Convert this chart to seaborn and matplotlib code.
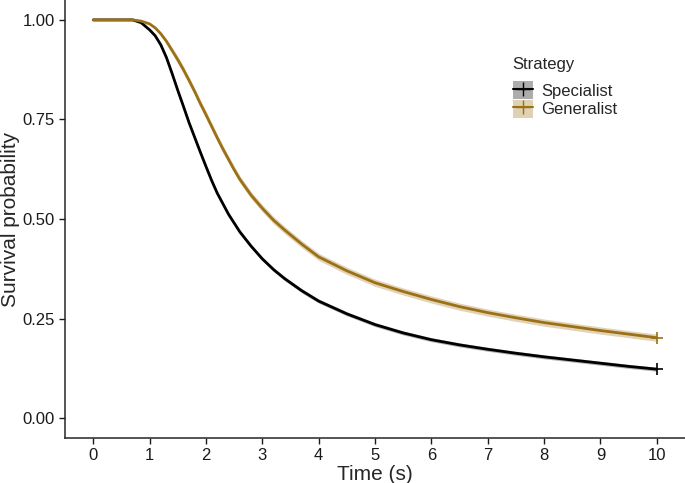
import matplotlib
matplotlib.use('Agg')
import matplotlib.pyplot as plt
import seaborn as sns
import pandas as pd
from matplotlib.patches import Patch
from matplotlib.lines import Line2D

# survival curves
time_spec = [0, 0.7, 0.85, 1.0, 1.1, 1.2, 1.3, 1.4, 1.5, 1.6, 1.7, 1.8, 1.9, 2.0,
             2.1, 2.2, 2.4, 2.6, 2.8, 3.0, 3.2, 3.4, 3.7, 4.0, 4.5, 5.0, 5.5, 6.0,
             6.5, 7.0, 7.5, 8.0, 8.5, 9.0, 9.5, 10.0]
surv_spec = [1.0, 1.0, 0.993, 0.975, 0.96, 0.937, 0.905, 0.865, 0.823, 0.783, 0.742,
             0.705, 0.668, 0.632, 0.597, 0.565, 0.512, 0.468, 0.432, 0.40, 0.373,
             0.35, 0.32, 0.294, 0.262, 0.235, 0.214, 0.197, 0.184, 0.173, 0.163,
             0.154, 0.146, 0.138, 0.130, 0.123]

time_gen = [0, 0.7, 0.85, 1.0, 1.1, 1.2, 1.3, 1.4, 1.5, 1.6, 1.7, 1.8, 1.9, 2.0,
            2.1, 2.2, 2.3, 2.4, 2.5, 2.6, 2.8, 3.0, 3.2, 3.4, 3.7, 4.0, 4.5, 5.0,
            5.5, 6.0, 6.5, 7.0, 7.5, 8.0, 8.5, 9.0, 9.5, 10.0]
surv_gen = [1.0, 1.0, 0.997, 0.99, 0.98, 0.965, 0.946, 0.923, 0.9, 0.875, 0.848,
            0.82, 0.79, 0.762, 0.733, 0.704, 0.676, 0.65, 0.624, 0.60, 0.56, 0.527,
            0.497, 0.472, 0.437, 0.405, 0.37, 0.34, 0.318, 0.298, 0.28, 0.265,
            0.252, 0.24, 0.23, 0.22, 0.211, 0.202]

# half width of the confidence band
ci_spec = 0.005
ci_gen = 0.009

strategies = ['Specialist', 'Generalist']
colors = {'Specialist': '#000000', 'Generalist': '#9C7015'}

df = pd.concat([
    pd.DataFrame({'time': time_spec, 'surv': surv_spec, 'Strategy': 'Specialist'}),
    pd.DataFrame({'time': time_gen, 'surv': surv_gen, 'Strategy': 'Generalist'}),
])
# band is narrow at the start where nobody has died yet
df['ci'] = [min(ci_spec, (1 - v) * 0.1) for v in surv_spec] + \
           [min(ci_gen, (1 - v) * 0.1) for v in surv_gen]

sns.set_style('ticks')
plt.rcParams['font.family'] = ['Liberation Sans', 'DejaVu Sans']

fig = plt.figure(figsize=(6.85, 4.83), dpi=100)
ax = fig.add_axes([0.095, 0.093, 0.905, 0.907])

for s in strategies:
    d = df[df['Strategy'] == s]
    ax.fill_between(d['time'], d['surv'] - d['ci'], d['surv'] + d['ci'],
                    color=colors[s], alpha=0.3, linewidth=0)

sns.lineplot(data=df, x='time', y='surv', hue='Strategy', palette=colors,
             hue_order=strategies, linewidth=2, legend=False, ax=ax, estimator=None)

# censor marks at the end
ends = df.groupby('Strategy').tail(1)
for _, r in ends.iterrows():
    ax.plot(r['time'], r['surv'], marker='+', markersize=8, mew=1.2, color=colors[r['Strategy']])

ax.set_xlim(-0.5, 10.5)
ax.set_ylim(-0.05, 1.05)
ax.set_xticks(range(0, 11))
ax.set_yticks([0, 0.25, 0.5, 0.75, 1.0])
ax.set_yticklabels(['0.00', '0.25', '0.50', '0.75', '1.00'])
ax.tick_params(labelsize=12, colors='#1a1a1a', length=4, width=1.0)
ax.set_xlabel('Time (s)', fontsize=15, labelpad=1)
ax.set_ylabel('Survival probability', fontsize=15, labelpad=2)
sns.despine(ax=ax)
for sp in ['left', 'bottom']:
    ax.spines[sp].set_linewidth(1.1)

handles = []
for s in strategies:
    handles.append((Patch(facecolor=colors[s], alpha=0.32, edgecolor='none'),
                    Line2D([], [], color=colors[s], marker='+', markersize=10, lw=1.5)))
leg = ax.legend(handles, strategies, title='Strategy', loc='upper left',
                bbox_to_anchor=(0.711, 0.886), frameon=False, fontsize=12,
                title_fontsize=12, handlelength=1.2, handleheight=1.3,
                handletextpad=0.5, labelspacing=0.02, borderaxespad=0)
leg._legend_box.align = 'left'
leg._legend_box.sep = 7

fig.savefig('out.png', dpi=100)
